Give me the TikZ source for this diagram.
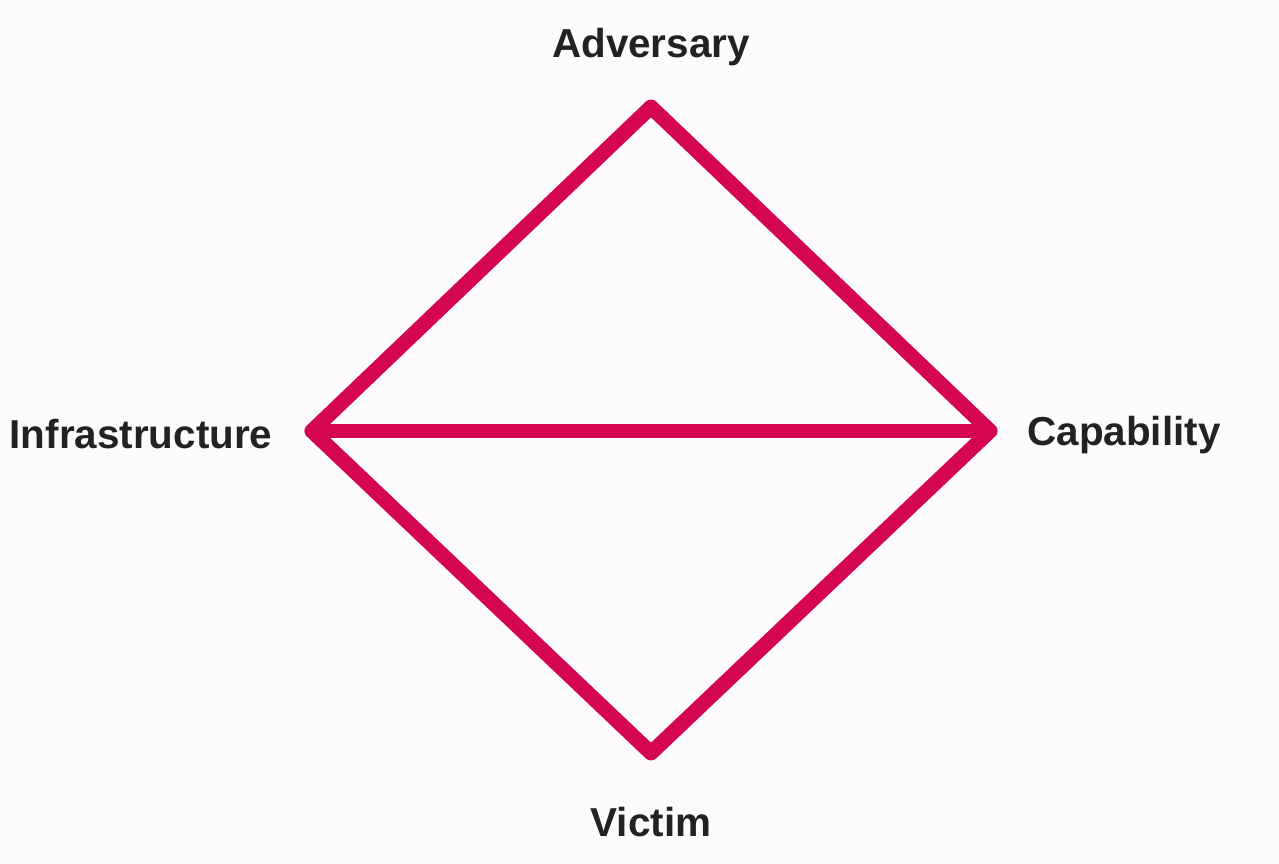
\documentclass[tikz,border=0pt]{standalone}
\usepackage{fontspec}
\setmainfont{Liberation Sans}
\usetikzlibrary{positioning}
\definecolor{diamondred}{HTML}{D4064F}
\definecolor{labelgray}{HTML}{222222}
\definecolor{paper}{HTML}{FDFBFD}
\tikzset{edge/.style = {line width=8.5pt,
draw=diamondred,
line cap=round,
line join=round},
corner/.style = {font=\bfseries\fontsize{23}{27}\selectfont,
text=labelgray,
inner sep=0pt}}

\begin{document}
\begin{tikzpicture}[x=0.02cm, y=-0.02cm]

\fill[paper] (0,0) rectangle (1279,864);
\useasboundingbox (0,0) rectangle (1279,864);

\coordinate (adversary) at (651,107);
\coordinate (infrastructure) at (312,431);
\coordinate (capability) at (990,431);
\coordinate (victim) at (651,753);

\node (adv_label) [corner] at (651,47) {Adversary};
\node (inf_label) [corner] at (141,434) {Infrastructure};
\node (cap_label) [corner] at (1124,435) {Capability};
\node (vic_label) [corner] at (651,822) {Victim};

\draw [edge] (adversary) -- (capability) -- (victim) -- (infrastructure) -- cycle;
\draw [edge] (infrastructure) -- (capability);

\end{tikzpicture}
\end{document}
